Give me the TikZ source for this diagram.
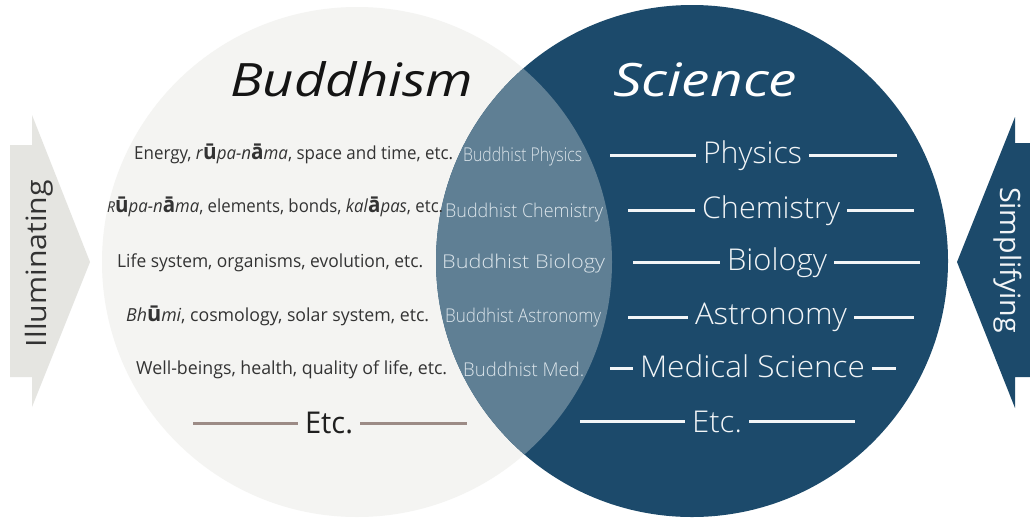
\documentclass[tikz,border=0pt]{standalone}
\usepackage{fontspec}
\usepackage{graphicx}
\setmainfont{Open Sans}
\IfFontExistsTF{Open Sans Light}{\newfontfamily\lightf{Open Sans Light}}{\newfontfamily\lightf{Open Sans}}
\definecolor{lcirc}{HTML}{F4F4F2}
\definecolor{scib}{HTML}{1C4A6B}
\definecolor{lensc}{HTML}{5F7F94}
\definecolor{larrow}{HTML}{E5E5E1}
\definecolor{ltxt}{HTML}{333333}
\definecolor{lenstxt}{HTML}{DCE5EB}
\definecolor{scitxt}{HTML}{F2F5F7}
\definecolor{etcline}{HTML}{9C8B86}
\newcommand{\fitw}[2]{\resizebox{#1}{\height}{#2}}
\newcommand{\fsz}[1]{\fontsize{#1}{#1}\selectfont}
\newcommand{\bigu}{{\upshape\bfseries\fsz{22}ū}}
\newcommand{\biga}{{\upshape\bfseries\fsz{22}ā}}
\begin{document}
\begin{tikzpicture}[x=1pt,y=-1pt,
  ltext/.style={text=ltxt, font=\fsz{18}, inner sep=0pt, anchor=base west},
  lenslab/.style={text=lenstxt, font=\lightf\fsz{19}, inner sep=0pt, anchor=base west},
  scilab/.style={text=scitxt, font=\lightf\fsz{30}, inner xsep=7pt, inner ysep=0pt, anchor=base},
  wline/.style={draw=scitxt, line width=3pt},
  bline/.style={draw=etcline, line width=3pt},
  title/.style={font=\itshape\fsz{46}, inner sep=0pt, anchor=base west}
]
\useasboundingbox (0,0) rectangle (1030,517);
\fill[white] (0,0) rectangle (1030,517);

% circles
\fill[lcirc] (357,262) circle[radius=255];
\fill[scib] (692,261) circle[radius=256];
\begin{scope}
  \clip (692,261) circle[radius=256];
  \fill[lensc] (357,262) circle[radius=255];
\end{scope}

% side arrows
\fill[larrow] (10,145) -- (32,145) -- (32,115) -- (90,262) -- (32,407) -- (32,377) -- (10,377) -- cycle;
\fill[scib] (1030,143) -- (1015,143) -- (1015,117) -- (957,262) -- (1015,408) -- (1015,377) -- (1030,377) -- cycle;
\node[text=ltxt, font=\fsz{28}, inner sep=0pt, anchor=base, rotate=90] (illum) at (46,263.5) {\fitw{167pt}{Illuminating}};
\node[text=scitxt, font=\fsz{28}, inner sep=0pt, anchor=base, rotate=-90] (simpl) at (1000,260) {\fitw{146pt}{Simplifying}};

% titles
\node[title, text=black!92] (tbud) at (230,96) {\fitw{243pt}{Buddhism}};
\node[title, text=white] (tsci) at (613,96) {\fitw{184pt}{Science}};

% Buddhism rows
\node[ltext] (b1) at (134,159) {\fitw{319pt}{Energy, \textit{r}\bigu\textit{pa-n}\biga\textit{ma}, space and time, etc.}};
\node[ltext] (b2) at (107,212) {\fitw{336pt}{\textit{\fsz{15}R}\bigu\textit{pa-n}\biga\textit{ma}, elements, bonds, \textit{kal}\biga\textit{pas}, etc.}};
\node[ltext] (b3) at (117,267) {\fitw{306pt}{Life system, organisms, evolution, etc.}};
\node[ltext] (b4) at (126,321) {\fitw{303pt}{\textit{Bh}\bigu\textit{mi}, cosmology, solar system, etc.}};
\node[ltext] (b5) at (136,374) {\fitw{311pt}{Well-beings, health, quality of life, etc.}};

% lens rows
\node[lenslab] (l1) at (463,161) {\fitw{119pt}{Buddhist Physics}};
\node[lenslab] (l2) at (445,217) {\fitw{158pt}{Buddhist Chemistry}};
\node[lenslab] (l3) at (442,268) {\fitw{163pt}{Buddhist Biology}};
\node[lenslab] (l4) at (445,322) {\fitw{156pt}{Buddhist Astronomy}};
\node[lenslab] (l5) at (463,376) {\fitw{121pt}{Buddhist Med.}};

% science rows
\node[scilab] (s1) at (752.5,163) {\fitw{99pt}{Physics}};
\node[scilab] (s2) at (771,218) {\fitw{138pt}{Chemistry}};
\node[scilab] (s3) at (777,270) {\fitw{100pt}{Biology}};
\node[scilab] (s4) at (771,324) {\fitw{152pt}{Astronomy}};
\node[scilab] (s5) at (752.5,377) {\fitw{225pt}{Medical Science}};
\node[scilab] (s6) at (717,432) {\fitw{50pt}{Etc.}};

\coordinate (s1l) at (610,155); \coordinate (s1r) at (897,155);
\coordinate (s2l) at (628,210); \coordinate (s2r) at (914,210);
\coordinate (s3l) at (633,262); \coordinate (s3r) at (920,262);
\coordinate (s4l) at (628,317); \coordinate (s4r) at (914,317);
\coordinate (s5l) at (610,368); \coordinate (s5r) at (896,368);
\coordinate (s6l) at (580,421); \coordinate (s6r) at (855,421);
\foreach \i in {1,...,6}{
  \draw[wline] (s\i l) -- (s\i l -| s\i.west);
  \draw[wline] (s\i.east |- s\i r) -- (s\i r);
}

% Buddhism Etc.
\node[text=black!88, font=\fsz{30}, inner xsep=7pt, inner ysep=0pt, anchor=base] (betc) at (329,433) {\fitw{48pt}{Etc.}};
\coordinate (bel) at (193,423); \coordinate (ber) at (467,423);
\draw[bline] (bel) -- (bel -| betc.west);
\draw[bline] (betc.east |- ber) -- (ber);
\end{tikzpicture}
\end{document}
